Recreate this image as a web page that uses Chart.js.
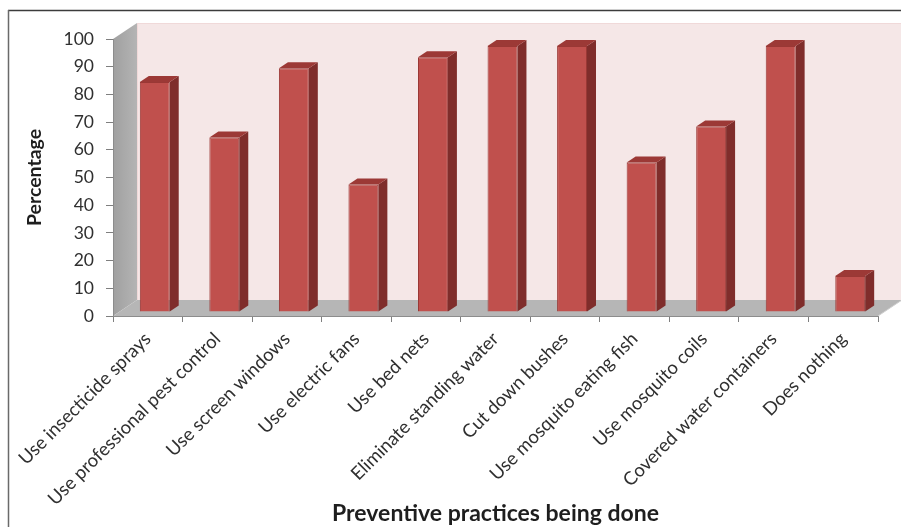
<!DOCTYPE html>
<html>
<head>
<meta charset="utf-8">
<script src="https://cdn.jsdelivr.net/npm/chart.js@4.4.1/dist/chart.umd.min.js"></script>
<style>
  html, body { margin: 0; padding: 0; background: #ffffff; }
  #wrap { width: 901px; height: 527px; position: relative; }
</style>
</head>
<body>
<div id="wrap"><canvas id="chart" width="901" height="527"></canvas></div>
<script>
// Preventive practices and share of respondents doing each (%)
const practices = [
  'Use insecticide sprays',
  'Use professional pest control',
  'Use screen windows',
  'Use electric fans',
  'Use bed nets',
  'Eliminate standing water',
  'Cut down bushes',
  'Use mosquito eating fish',
  'Use mosquito coils',
  'Covered water containers',
  'Does nothing'
];
const percentages = [83, 63, 88, 46, 92, 96, 96, 54, 67, 96, 13];
const yMin = 0;
const yMax = 100;
const yStep = 10;

// depth of the 3-D box (walls / floor) and of the columns
const WALL_DX = 24, WALL_DY = -16;
const BAR_SHIFT_X = 7, BAR_SHIFT_Y = -4;
const BAR_DX = 9, BAR_DY = -6;

const FONT = 'Lato, "Open Sans", sans-serif';

const box3d = {
  id: 'box3d',
  beforeDraw(chart) {
    const { ctx, chartArea: a } = chart;
    ctx.save();
    ctx.fillStyle = '#ffffff';
    ctx.fillRect(0, 0, chart.width, chart.height);

    // back wall
    ctx.fillStyle = '#f5e7e7';
    ctx.fillRect(a.left + WALL_DX, a.top + WALL_DY, a.right - a.left + 2, a.bottom - a.top);
    ctx.strokeStyle = '#f0d9d9';
    ctx.lineWidth = 1;
    ctx.strokeRect(a.left + WALL_DX + 0.5, a.top + WALL_DY + 0.5, a.right - a.left + 2, a.bottom - a.top);

    // side wall
    const g = ctx.createLinearGradient(a.left, 0, a.left + WALL_DX, 0);
    g.addColorStop(0, '#a0a0a0');
    g.addColorStop(1, '#b4b4b4');
    ctx.fillStyle = g;
    ctx.beginPath();
    ctx.moveTo(a.left, a.bottom);
    ctx.lineTo(a.left, a.top);
    ctx.lineTo(a.left + WALL_DX, a.top + WALL_DY);
    ctx.lineTo(a.left + WALL_DX, a.bottom + WALL_DY);
    ctx.closePath();
    ctx.fill();

    // floor
    ctx.fillStyle = '#b6b6b6';
    ctx.beginPath();
    ctx.moveTo(a.left, a.bottom);
    ctx.lineTo(a.right, a.bottom);
    ctx.lineTo(a.right + WALL_DX, a.bottom + WALL_DY);
    ctx.lineTo(a.left + WALL_DX, a.bottom + WALL_DY);
    ctx.closePath();
    ctx.fill();
    ctx.strokeStyle = '#d0d0d0';
    ctx.beginPath();
    ctx.moveTo(a.right, a.bottom);
    ctx.lineTo(a.right + WALL_DX, a.bottom + WALL_DY);
    ctx.stroke();
    ctx.restore();
  },
  beforeDatasetsDraw(chart) {
    const { ctx } = chart;
    ctx.save();
    ctx.translate(BAR_SHIFT_X, BAR_SHIFT_Y);
    const meta = chart.getDatasetMeta(0);
    meta.data.forEach((bar) => {
      const { x, y, base, width } = bar.getProps(['x', 'y', 'base', 'width'], true);
      const l = x - width / 2, r = x + width / 2;
      // right side face
      ctx.fillStyle = '#7f2d2b';
      ctx.beginPath();
      ctx.moveTo(r, base);
      ctx.lineTo(r, y);
      ctx.lineTo(r + BAR_DX, y + BAR_DY);
      ctx.lineTo(r + BAR_DX, base + BAR_DY);
      ctx.closePath();
      ctx.fill();
      // top face
      ctx.fillStyle = '#9c3936';
      ctx.beginPath();
      ctx.moveTo(l, y);
      ctx.lineTo(r, y);
      ctx.lineTo(r + BAR_DX, y + BAR_DY);
      ctx.lineTo(l + BAR_DX, y + BAR_DY);
      ctx.closePath();
      ctx.fill();
    });
  },
  afterDatasetsDraw(chart) {
    chart.ctx.restore();
  },
  afterDraw(chart) {
    const { ctx } = chart;
    ctx.save();
    ctx.lineWidth = 1.5;
    ctx.strokeStyle = '#3c3c3c';
    ctx.beginPath();
    ctx.moveTo(8, 10.5);
    ctx.lineTo(chart.width, 10.5);
    ctx.stroke();
    ctx.strokeStyle = '#6a6a6a';
    ctx.beginPath();
    ctx.moveTo(8.5, 10);
    ctx.lineTo(8.5, chart.height);
    ctx.stroke();
    ctx.restore();
  }
};

new Chart(document.getElementById('chart'), {
  type: 'bar',
  data: {
    labels: practices,
    datasets: [{
      data: percentages,
      backgroundColor: '#c0504d',
      borderColor: '#9a3835',
      borderWidth: 1,
      categoryPercentage: 1,
      barPercentage: 0.43
    }]
  },
  options: {
    responsive: false,
    animation: false,
    events: [],
    layout: { padding: { left: 0, top: 39, right: 23, bottom: 0 } },
    plugins: { legend: { display: false }, tooltip: { enabled: false } },
    scales: {
      x: {
        grid: { drawOnChartArea: false, tickLength: 6, color: '#7f7f7f', offset: true },
        border: { display: true, color: '#8c8c8c', width: 1 },
        ticks: {
          minRotation: 45, maxRotation: 45, autoSkip: false, padding: 6,
          color: '#303030', font: { family: FONT, size: 18.5 }
        },
        title: {
          display: true, text: 'Preventive practices being done',
          color: '#1e1e1e', font: { family: FONT, size: 23, weight: 'bold' },
          padding: { top: 0, bottom: 0 }
        },
        afterFit(scale) { scale.height = 211; }
      },
      y: {
        min: yMin, max: yMax,
        grid: { drawOnChartArea: false, tickLength: 7, color: '#7f7f7f' },
        border: { display: true, color: '#8c8c8c', width: 1 },
        ticks: {
          stepSize: yStep, padding: 12,
          color: '#303030', font: { family: FONT, size: 17.5 }
        },
        title: {
          display: true, text: 'Percentage',
          color: '#1e1e1e', font: { family: FONT, size: 19.5, weight: 'bold' },
          padding: { top: 23, bottom: 0 }
        },
        afterFit(scale) { scale.width = 113; }
      }
    }
  },
  plugins: [box3d]
});
</script>
</body>
</html>
